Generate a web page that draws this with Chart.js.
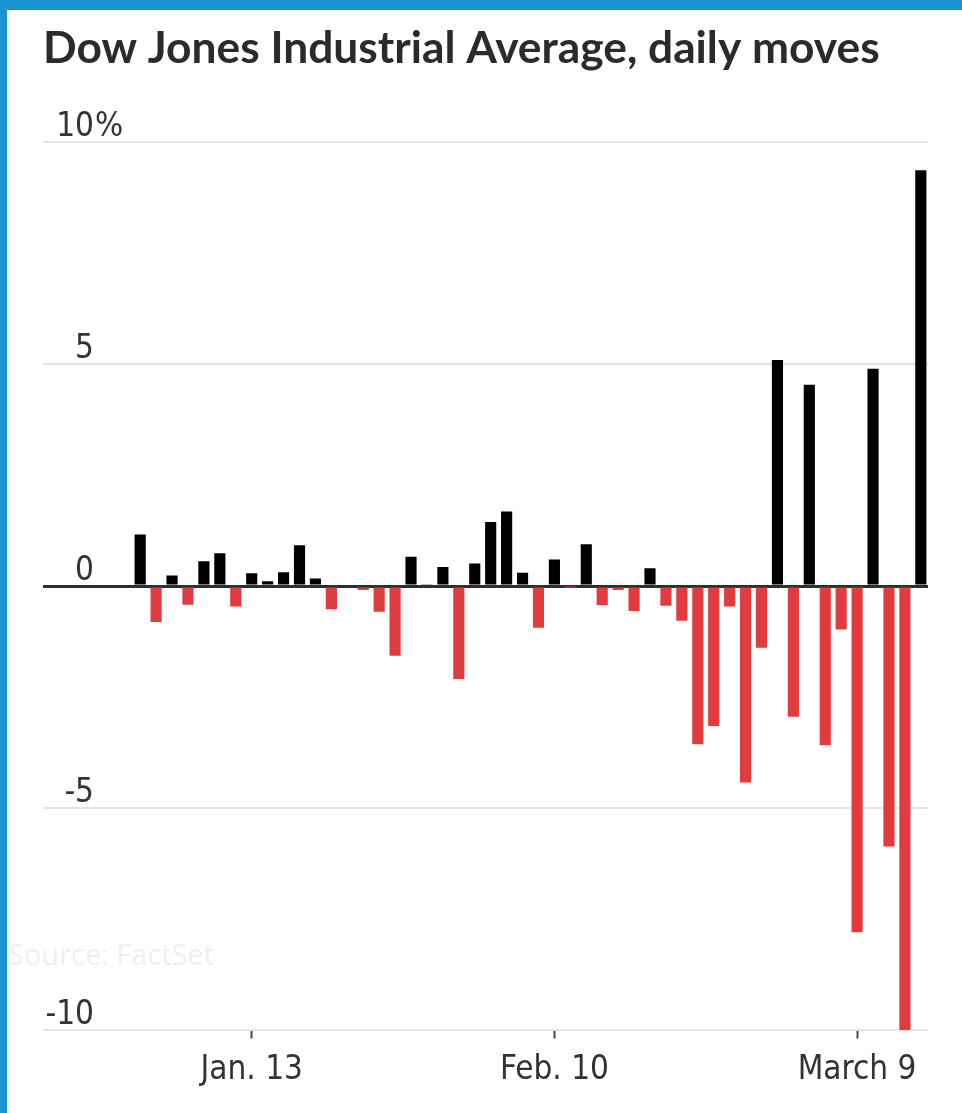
<!DOCTYPE html>
<html>
<head>
<meta charset="utf-8">
<script src="https://cdn.jsdelivr.net/npm/chart.js@4.4.1/dist/chart.umd.min.js"></script>
<style>
  html, body { margin: 0; padding: 0; background: #fff; }
  #frame {
    position: absolute; left: 0; top: 0;
    width: 955px; height: 1103px;
    border-top: 10px solid #1c93d2; border-left: 7px solid #1c93d2;
    background: #fff;
  }
  #source {
    position: absolute; left: 8px; top: 939px;
    font-family: 'Open Sans', sans-serif; font-size: 29px; line-height: 29px;
    color: #efefef;
  }
</style>
</head>
<body>
<div id="frame"><canvas id="myChart"></canvas></div>
<div id="source">Source: FactSet</div>
<script>
// trading days, Jan 2 - Mar 13
const dates = [
  'Jan 2','Jan 3','Jan 6','Jan 7','Jan 8','Jan 9','Jan 10','Jan 13','Jan 14','Jan 15',
  'Jan 16','Jan 17','Jan 21','Jan 22','Jan 23','Jan 24','Jan 27','Jan 28','Jan 29','Jan 30',
  'Jan 31','Feb 3','Feb 4','Feb 5','Feb 6','Feb 7','Feb 10','Feb 11','Feb 12','Feb 13',
  'Feb 14','Feb 18','Feb 19','Feb 20','Feb 21','Feb 24','Feb 25','Feb 26','Feb 27','Feb 28',
  'Mar 2','Mar 3','Mar 4','Mar 5','Mar 6','Mar 9','Mar 10','Mar 11','Mar 12','Mar 13'
];
// daily move, %
const moves = [
  1.16, -0.81, 0.24, -0.42, 0.56, 0.74, -0.46, 0.29, 0.11, 0.31,
  0.92, 0.17, -0.52, -0.03, -0.09, -0.58, -1.57, 0.66, 0.04, 0.43,
  -2.09, 0.51, 1.44, 1.68, 0.30, -0.94, 0.60, -0.01, 0.94, -0.43,
  -0.09, -0.56, 0.40, -0.44, -0.78, -3.56, -3.15, -0.46, -4.42, -1.39,
  5.09, -2.94, 4.53, -3.58, -0.98, -7.79, 4.89, -5.86, -9.99, 9.36
];
const tickDates = ['Jan 13', 'Feb 10', 'Mar 9'];
const tickLabels = ['Jan. 13', 'Feb. 10', 'March 9'];
const yTicks = [10, 5, 0, -5, -10];

const narrow = "'DejaVu Sans Condensed', sans-serif";
Chart.defaults.font.family = narrow;

const tickIdx = tickDates.map(d => dates.indexOf(d));

// y labels sit above their gridlines, numbers right aligned, % hanging
const yLabels = {
  id: 'yLabels',
  afterDraw(chart) {
    const { ctx, chartArea, scales } = chart;
    const y = scales.y;
    ctx.save();
    ctx.font = '33px ' + narrow;
    ctx.fillStyle = '#333';
    ctx.textBaseline = 'alphabetic';
    const x = chartArea.left + 51;
    yTicks.forEach(v => {
      const py = y.getPixelForValue(v) - 6;
      ctx.textAlign = 'right';
      ctx.fillText(String(v), x, py);
      if (v === yTicks[0]) {
        ctx.textAlign = 'left';
        ctx.fillText('%', x + 1, py);
      }
    });
    ctx.restore();
  }
};

const ctx = document.getElementById('myChart').getContext('2d');
const myChart = new Chart(ctx, {
  type: 'bar',
  data: {
    datasets: [{
      data: moves.map((v, i) => ({ x: i, y: v })),
      backgroundColor: moves.map(v => v >= 0 ? '#000000' : '#e03c3f'),
      barPercentage: 0.7,
      categoryPercentage: 1
    }]
  },
  options: {
    responsive: true,
    maintainAspectRatio: false,
    animation: false,
    layout: { padding: { left: 36, right: 34, top: 0, bottom: 11 } },
    plugins: {
      legend: { display: false },
      tooltip: { enabled: false },
      title: {
        display: true,
        text: 'Dow Jones Industrial Average, daily moves',
        align: 'start',
        color: '#2b2b2b',
        font: { family: 'Lato, sans-serif', size: 44.3, weight: 'bold', lineHeight: 1.2 },
        padding: { top: 12, bottom: 66.6 }
      }
    },
    scales: {
      x: {
        type: 'linear',
        min: -6.1,
        max: 49.45,
        offset: false,
        afterBuildTicks: scale => { scale.ticks = tickIdx.map(v => ({ value: v })); },
        ticks: {
          autoSkip: false,
          maxRotation: 0,
          padding: 12,
          color: '#333',
          font: { size: 33 },
          callback: value => tickLabels[tickIdx.indexOf(value)]
        },
        grid: {
          offset: false,
          drawOnChartArea: false,
          drawTicks: true,
          tickLength: 8,
          tickWidth: 2,
          tickColor: '#444'
        },
        border: { display: false }
      },
      y: {
        min: -10,
        max: 10,
        afterBuildTicks: scale => { scale.ticks = yTicks.map(v => ({ value: v })); },
        ticks: { display: false },
        grid: {
          drawTicks: false,
          color: c => c.tick.value === 0 ? '#2e2e2e' : '#e4e4e4',
          lineWidth: c => c.tick.value === 0 ? 3 : 2
        },
        border: { display: false }
      }
    }
  },
  plugins: [yLabels]
});
</script>
</body>
</html>
